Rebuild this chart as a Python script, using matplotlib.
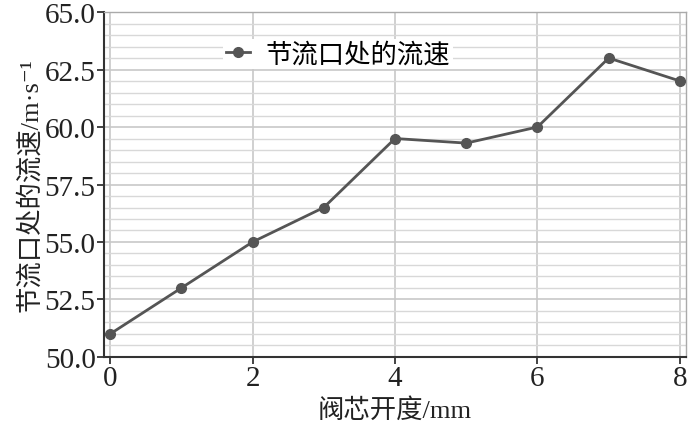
import matplotlib
matplotlib.use("Agg")
import matplotlib.pyplot as plt
from matplotlib.ticker import MultipleLocator

plt.rcParams['font.family'] = ['Liberation Serif', 'Noto Sans CJK SC', 'DejaVu Sans']

opening_mm = [0, 1, 2, 3, 4, 5, 6, 7, 8]
velocity = [51.0, 53.0, 55.0, 56.5, 59.5, 59.3, 60.0, 63.0, 62.0]
series_label = "节流口处的流速"
xlabel = "阀芯开度/mm"
ylabel = "节流口处的流速/m·s⁻¹"

fig = plt.figure(figsize=(7, 4.31), dpi=100)
ax = fig.add_axes([0.1486, 0.1694, 0.8314, 0.8004])

ax.plot(opening_mm, velocity, color='#555555', lw=2, marker='o', ms=7,
        label=series_label, zorder=3)

ax.set_xlim(-0.085, 8.085)
ax.set_ylim(50.0, 65.0)
ax.xaxis.set_major_locator(MultipleLocator(2))
ax.yaxis.set_major_locator(MultipleLocator(2.5))
ax.yaxis.set_minor_locator(MultipleLocator(0.5))
ax.yaxis.set_major_formatter(matplotlib.ticker.FormatStrFormatter('%.1f'))

ax.grid(True, which='major', color='#c8c8c8', lw=1.2)
ax.grid(True, which='minor', axis='y', color='#d8d8d8', lw=1.0)
ax.set_axisbelow(True)

ax.tick_params(axis='both', which='major', direction='out', length=5, width=1.2,
               labelsize=21, colors='#222222', pad=1)
ax.tick_params(axis='y', which='minor', length=0)
for s in ['left', 'bottom']:
    ax.spines[s].set_color('#333333')
    ax.spines[s].set_linewidth(1.5)
for s in ['top', 'right']:
    ax.spines[s].set_color('#aaaaaa')
    ax.spines[s].set_linewidth(1.0)

ax.set_xlabel(xlabel, fontsize=19, labelpad=4, color='#222222')
ax.set_ylabel(ylabel, fontsize=19, labelpad=2, color='#222222')

leg = ax.legend(loc='center', bbox_to_anchor=(0.402, 0.878), fontsize=19,
                frameon=True, fancybox=False, handlelength=0.9,
                borderpad=0.1, handletextpad=0.6)
leg.get_frame().set_facecolor('white')
leg.get_frame().set_edgecolor('none')
leg.get_frame().set_alpha(1.0)

fig.savefig("out.png", dpi=100)
